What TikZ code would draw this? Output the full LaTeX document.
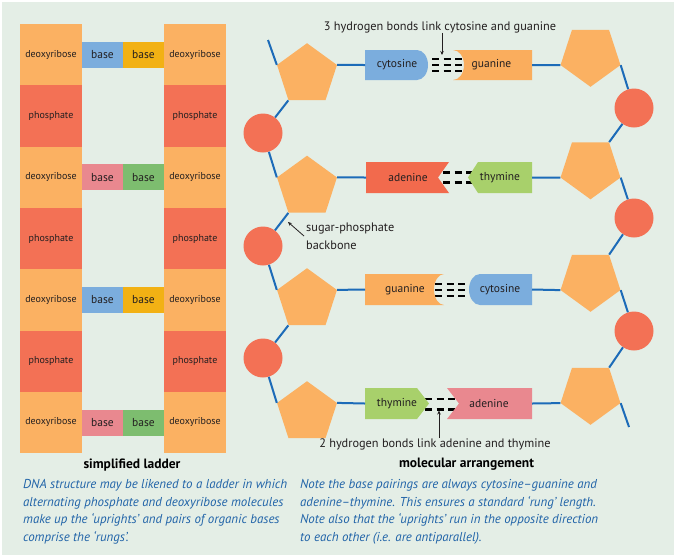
\documentclass[tikz,border=0pt]{standalone}
\usepackage{fontspec}
\setmainfont{PT Sans}
\usetikzlibrary{shapes.geometric,arrows.meta}
\definecolor{bgc}{HTML}{E4EEE6}
\definecolor{deoxy}{HTML}{FBB162}
\definecolor{phos}{HTML}{F37155}
\definecolor{bblue}{HTML}{7BADDD}
\definecolor{byellow}{HTML}{F2B114}
\definecolor{bpink}{HTML}{E9888F}
\definecolor{bgreen}{HTML}{7DBD6F}
\definecolor{tgreen}{HTML}{A8D06B}
\definecolor{ared}{HTML}{F26A4D}
\definecolor{gorange}{HTML}{FAAD5D}
\definecolor{bbone}{HTML}{1C6BB8}
\definecolor{capblue}{HTML}{2063A8}
\definecolor{txt}{HTML}{231F20}
\begin{document}
\begin{tikzpicture}[x=1pt,y=-1pt,
  cell/.style={rectangle, minimum width=62pt, minimum height=61.3pt, inner sep=0pt, font=\fontsize{10}{11}\selectfont, text=txt},
  basebox/.style={rectangle, minimum width=41pt, minimum height=26pt, inner sep=0pt, font=\fontsize{11.5}{13}\selectfont, text=txt},
  pent/.style={regular polygon, regular polygon sides=5, minimum size=63pt, inner sep=0pt, fill=deoxy},
  rpent/.style={pent, shape border rotate=180},
  ball/.style={circle, minimum size=39pt, inner sep=0pt, fill=phos},
  bone/.style={draw=bbone, line width=2pt},
  hb/.style={draw=black, line width=2.3pt, dash pattern=on 7pt off 4.5pt},
  btxt/.style={font=\fontsize{11.5}{13}\selectfont, text=txt, inner sep=0pt},
  lbl/.style={font=\fontsize{12.3}{18}\selectfont, text=txt, inner sep=0pt},
  ttl/.style={font=\fontsize{13.5}{15}\selectfont\bfseries, text=black, inner sep=0pt},
  captxt/.style={font=\fontsize{12.9}{17.4}\selectfont\itshape, text=capblue, inner sep=0pt, align=left, anchor=north west},
  pointer/.style={draw=txt, line width=0.8pt, -{Stealth[length=4pt,width=3.5pt]}}
]
\useasboundingbox (0,0) rectangle (679,558);
\fill[white] (0,0) rectangle (679,558);
\fill[bgc] (2,2) rectangle (674,555);

% ---------- simplified ladder ----------
\foreach \i/\kind/\col in {1/deoxyribose/deoxy,2/phosphate/phos,3/deoxyribose/deoxy,4/phosphate/phos,5/deoxyribose/deoxy,6/phosphate/phos,7/deoxyribose/deoxy}{
  \node[cell, fill=\col] (LL\i) at (51,{24+61.3*(\i-0.5)}) {\kind};
  \node[cell, fill=\col] (LR\i) at (195,{24+61.3*(\i-0.5)}) {\kind};
}
\node[basebox, fill=bblue]   (B1a) at (102.5,54.6) {base};
\node[basebox, fill=byellow] (B1b) at (143.5,54.6) {base};
\node[basebox, fill=bpink]   (B3a) at (102.5,177.3) {base};
\node[basebox, fill=bgreen]  (B3b) at (143.5,177.3) {base};
\node[basebox, fill=bblue]   (B5a) at (102.5,300) {base};
\node[basebox, fill=byellow] (B5b) at (143.5,300) {base};
\node[basebox, fill=bpink]   (B7a) at (102.5,422.6) {base};
\node[basebox, fill=bgreen]  (B7b) at (143.5,422.6) {base};

\node[ttl] (t1) at (132,465) {simplified ladder};
\node[captxt] (c1) at (23,479.5) {DNA structure may be likened to a ladder in which\\alternating phosphate and deoxyribose molecules\\make up the `uprights' and pairs of organic bases\\comprise the `rungs'.};

% ---------- molecular arrangement ----------
\node[pent] (P1) at (307,74.7) {};
\node[pent] (P2) at (307,187.2) {};
\node[pent] (P3) at (307,299.7) {};
\node[pent] (P4) at (307,412.7) {};
\node[rpent] (Q1) at (590.5,55.3) {};
\node[rpent] (Q2) at (590.5,167.8) {};
\node[rpent] (Q3) at (590.5,280.3) {};
\node[rpent] (Q4) at (590.5,393.3) {};
\node[ball] (C1) at (263,133) {};
\node[ball] (C2) at (263,246) {};
\node[ball] (C3) at (263,358) {};
\node[ball] (D1) at (634,108) {};
\node[ball] (D2) at (634,218) {};
\node[ball] (D3) at (634,331) {};
\coordinate (topL) at (268,40);
\coordinate (botR) at (629,427);

\draw[bone] (topL) -- (P1.corner 2);
\draw[bone] (P1.corner 3) -- (C1);
\draw[bone] (C1) -- (P2.corner 2);
\draw[bone] (P2.corner 3) -- (C2);
\draw[bone] (C2) -- (P3.corner 2);
\draw[bone] (P3.corner 3) -- (C3);
\draw[bone] (C3) -- (P4.corner 2);
\draw[bone] (Q1.corner 2) -- (D1);
\draw[bone] (D1) -- (Q2.corner 3);
\draw[bone] (Q2.corner 2) -- (D2);
\draw[bone] (D2) -- (Q3.corner 3);
\draw[bone] (Q3.corner 2) -- (D3);
\draw[bone] (D3) -- (Q4.corner 3);
\draw[bone] (Q4.corner 2) -- (botR);

% hydrogen bonds (under the bases)
\draw[hb] (432,59) -- (462,59);
\draw[hb] (432,65) -- (462,65);
\draw[hb] (432,71) -- (462,71);
\draw[hb] (443,172.5) -- (474,172.5);
\draw[hb] (443,182.5) -- (474,182.5);
\draw[hb] (435,284) -- (465,284);
\draw[hb] (435,290) -- (465,290);
\draw[hb] (435,296) -- (465,296);
\draw[hb] (425,399) -- (455,399);
\draw[hb] (425,409.5) -- (455,409.5);

% row 1: cytosine - guanine
\fill[bblue] (365,50) -- (417,50) .. controls (423.1,50) and (428,56.7) .. (428,65) .. controls (428,73.3) and (423.1,80) .. (417,80) -- (365,80) -- cycle;
\fill[gorange] (453,50) -- (532,50) -- (532,80) -- (453,80) .. controls (459.1,80) and (464,73.3) .. (464,65) .. controls (464,56.7) and (459.1,50) .. (453,50) -- cycle;
\node[btxt] (cy1) at (397,65) {cytosine};
\node[btxt] (gu1) at (491.5,65) {guanine};
\coordinate (a1) at (365,65);
\coordinate (b1) at (532,65);
\draw[bone] (P1.corner 5) -- (a1);
\draw[bone] (b1) -- (Q1.corner 5);

% row 2: adenine - thymine
\fill[ared] (366,162) -- (449,162) -- (438,177.5) -- (449,193) -- (366,193) -- cycle;
\fill[tgreen] (468,177.5) -- (478,162) -- (532,162) -- (532,193) -- (478,193) -- cycle;
\node[btxt] (ad2) at (408,177.5) {adenine};
\node[btxt] (th2) at (500,177.5) {thymine};
\coordinate (a2) at (366,177.5);
\coordinate (b2) at (532,177.5);
\draw[bone] (P2.corner 5) -- (a2);
\draw[bone] (b2) -- (Q2.corner 5);

% row 3: guanine - cytosine
\fill[gorange] (365,274) -- (444,274) .. controls (438.5,274) and (434,281) .. (434,289.5) .. controls (434,298) and (438.5,305) .. (444,305) -- (365,305) -- cycle;
\fill[bblue] (532,274) -- (480,274) .. controls (473.9,274) and (469,281) .. (469,289.5) .. controls (469,298) and (473.9,305) .. (480,305) -- (532,305) -- cycle;
\node[btxt] (gu3) at (405,289.5) {guanine};
\node[btxt] (cy3) at (500,289.5) {cytosine};
\coordinate (a3) at (365,289.5);
\coordinate (b3) at (532,289.5);
\draw[bone] (P3.corner 5) -- (a3);
\draw[bone] (b3) -- (Q3.corner 5);

% row 4: thymine - adenine
\fill[tgreen] (365,388) -- (417,388) -- (429,403.5) -- (417,419) -- (365,419) -- cycle;
\fill[bpink] (447,388) -- (532,388) -- (532,419) -- (447,419) -- (459,403.5) -- cycle;
\node[btxt] (th4) at (397,403.5) {thymine};
\node[btxt] (ad4) at (489,403.5) {adenine};
\coordinate (a4) at (365,403.5);
\coordinate (b4) at (532,403.5);
\draw[bone] (P4.corner 5) -- (a4);
\draw[bone] (b4) -- (Q4.corner 5);

% labels and pointers
\node[lbl] (h3) at (440,27) {3 hydrogen bonds link cytosine and guanine};
\coordinate (h3tip) at (442,55);
\draw[pointer] (h3.south -| h3tip) -- (h3tip);
\node[lbl] (h2) at (435,444) {2 hydrogen bonds link adenine and thymine};
\coordinate (h2tip) at (439,410.5);
\draw[pointer] (h2.north -| h2tip) -- (h2tip);
\node[lbl, align=left, anchor=north west] (sp) at (306,222.5) {sugar-phosphate\\backbone};
\coordinate (sptip) at (288,222);
\coordinate (spstart) at (304,236);
\draw[pointer] (spstart) -- (sptip);

\node[ttl] (t2) at (466.5,464) {molecular arrangement};
\node[captxt] (c2) at (300,479.5) {Note the base pairings are always cytosine--guanine and\\adenine--thymine. This ensures a standard `rung' length.\\Note also that the `uprights' run in the opposite direction\\to each other (i.e. are antiparallel).};
\end{tikzpicture}
\end{document}
